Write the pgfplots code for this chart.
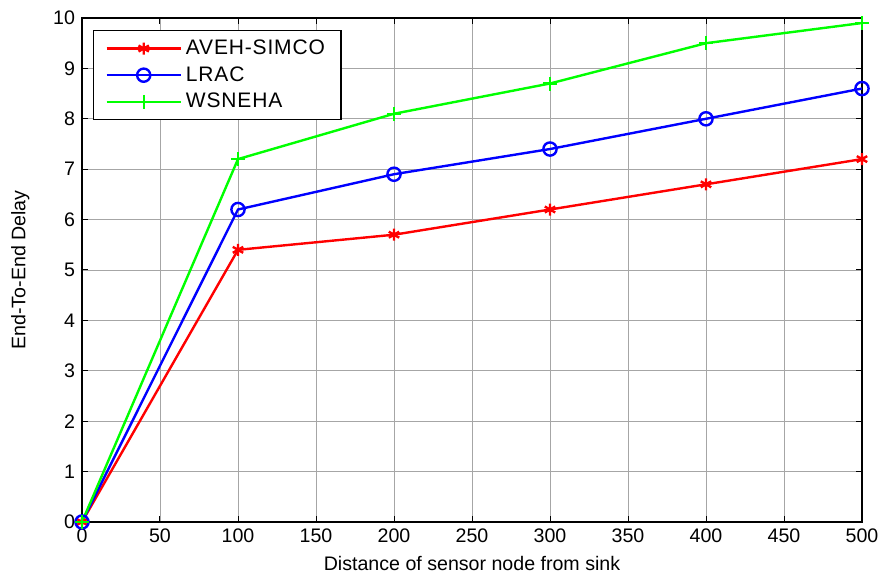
\documentclass[border=0pt]{standalone}
\usepackage{pgfplots}
\pgfplotsset{compat=1.18}
\usepackage{fontspec}
\setmainfont{Liberation Sans}
\newfontfamily\legfont[LetterSpace=4]{Liberation Sans}
\begin{document}
\begin{tikzpicture}
\begin{axis}[
  scale only axis,
  width=390pt, height=252pt,
  xmin=0, xmax=500, ymin=0, ymax=10,
  xtick={0,50,...,500}, ytick={0,1,...,10},
  /pgf/number format/assume math mode=true,
  ticklabel style={font=\fontsize{9.8}{11}\selectfont},
  label style={font=\fontsize{9.8}{11}\selectfont},
  xlabel={Distance of sensor node from sink},
  ylabel={End-To-End Delay},
  xlabel style={yshift=0pt},
  ylabel style={yshift=5pt},
  tick align=inside,
  xtick pos=both, ytick pos=both,
  major tick length=3pt,
  grid=major,
  major grid style={gray!70, line width=0.4pt},
  axis line style={black, line width=0.6pt},
  tick style={black, line width=0.5pt},
  legend cell align=left,
  legend style={at={(0.014,0.976)}, anchor=north west, draw=black, line width=0.6pt,
    font=\legfont\fontsize{10.5}{12}\selectfont, row sep=0.5pt, inner xsep=6pt, inner ysep=2.5pt},
  legend image code/.code={\draw[mark repeat=2,mark phase=2,#1] plot coordinates {(0cm,0cm) (0.65cm,0cm) (1.3cm,0cm)};},
]
\addplot[red, line width=1.2pt, mark=asterisk, mark size=3pt, mark options={solid}] coordinates {
 (0,0) (100,5.4) (200,5.7) (300,6.2) (400,6.7) (500,7.2)};
\addlegendentry{AVEH-SIMCO}
\addplot[blue, line width=1.2pt, mark=o, mark size=3.3pt, mark options={solid}] coordinates {
 (0,0) (100,6.2) (200,6.9) (300,7.4) (400,8.0) (500,8.6)};
\addlegendentry{LRAC}
\addplot[green, line width=1.2pt, mark=+, mark size=3.5pt, mark options={solid}] coordinates {
 (0,0) (100,7.2) (200,8.1) (300,8.7) (400,9.5) (500,9.9)};
\addlegendentry{WSNEHA}
\coordinate (O) at (rel axis cs:0,0);
\end{axis}
\pgfresetboundingbox
\path (O) ++(-41pt,-27pt) rectangle ++(441.5pt,288pt);
\end{tikzpicture}
\end{document}
